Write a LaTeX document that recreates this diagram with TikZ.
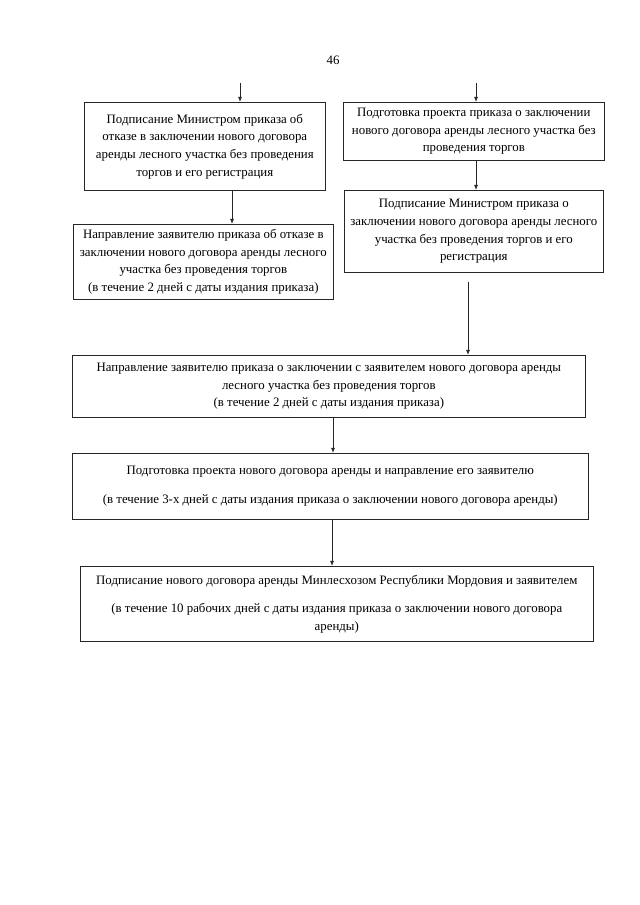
\documentclass[tikz,border=0pt]{standalone}
\usepackage{fontspec}
\setmainfont{Liberation Serif}
\usepackage{tikz}
\usetikzlibrary{positioning,arrows.meta}
\newlength{\px}
\setlength{\px}{0.328125mm}

\begin{document}
\begin{tikzpicture}[x=1\px,y=-1\px,
	box/.style={rectangle,draw=black!85,anchor=north west,align=center,inner sep=0pt,font=\fontsize{12}{16.5}\selectfont},
	arr/.style={-{Latex[length=1.7mm,width=1.3mm]},draw=black!85}]
	\useasboundingbox (0,0) rectangle (640,905);
	\node[font=\fontsize{12}{14}\selectfont] (page) at (333,60) {46};
	\begin{scope}[line width=0.6pt]
	\node[box,minimum width=241\px,minimum height=88\px] (A) at (84,102) {Подписание Министром приказа об\\отказе в заключении нового договора\\аренды лесного участка без проведения\\торгов и его регистрация};
	\node[box,minimum width=261\px,minimum height=58\px] (B) at (343,102) {Подготовка проекта приказа о заключении\\нового договора аренды лесного участка без\\проведения торгов};
	\node[box,minimum width=259\px,minimum height=82\px] (C) at (344,190) {Подписание Министром приказа о\\заключении нового договора аренды лесного\\участка без проведения торгов и его\\регистрация};
	\node[box,minimum width=260\px,minimum height=75\px] (D) at (73,224) {Направление заявителю приказа об отказе в\\заключении нового договора аренды лесного\\участка без проведения торгов\\(в течение 2 дней с даты издания приказа)};
	\node[box,minimum width=513\px,minimum height=62\px] (E) at (72,355) {Направление заявителю приказа о заключении с заявителем нового договора аренды\\лесного участка без проведения торгов\\(в течение 2 дней с даты издания приказа)};
	\node[box,minimum width=516\px,minimum height=66\px] (F) at (72,453) {Подготовка проекта нового договора аренды и направление его заявителю\\[10pt](в течение 3-х дней с даты издания приказа о заключении нового договора аренды)};
	\node[box,minimum width=513\px,minimum height=75\px] (G) at (80,566) {Подписание нового договора аренды Минлесхозом Республики Мордовия и заявителем\\[10pt](в течение 10 рабочих дней с даты издания приказа о заключении нового договора\\аренды)};
	\end{scope}
	\coordinate (inA) at (240,83);
	\coordinate (inB) at (476,83);
	\coordinate (ad) at (232,0);
	\coordinate (ce) at (468,0);
	\coordinate (ef) at (333,0);
	\coordinate (fg) at (332,0);
	\begin{scope}[line width=0.6pt]
	\draw[arr] (inA) -- (A.north -| inA);
	\draw[arr] (inB) -- (B.north -| inB);
	\draw[arr] (B.south -| inB) -- (C.north -| inB);
	\draw[arr] (A.south -| ad) -- (D.north -| ad);
	\draw[arr,shorten <=9\px] (C.south -| ce) -- (E.north -| ce);
	\draw[arr] (E.south -| ef) -- (F.north -| ef);
	\draw[arr] (F.south -| fg) -- (G.north -| fg);
	\end{scope}
\end{tikzpicture}
\end{document}
